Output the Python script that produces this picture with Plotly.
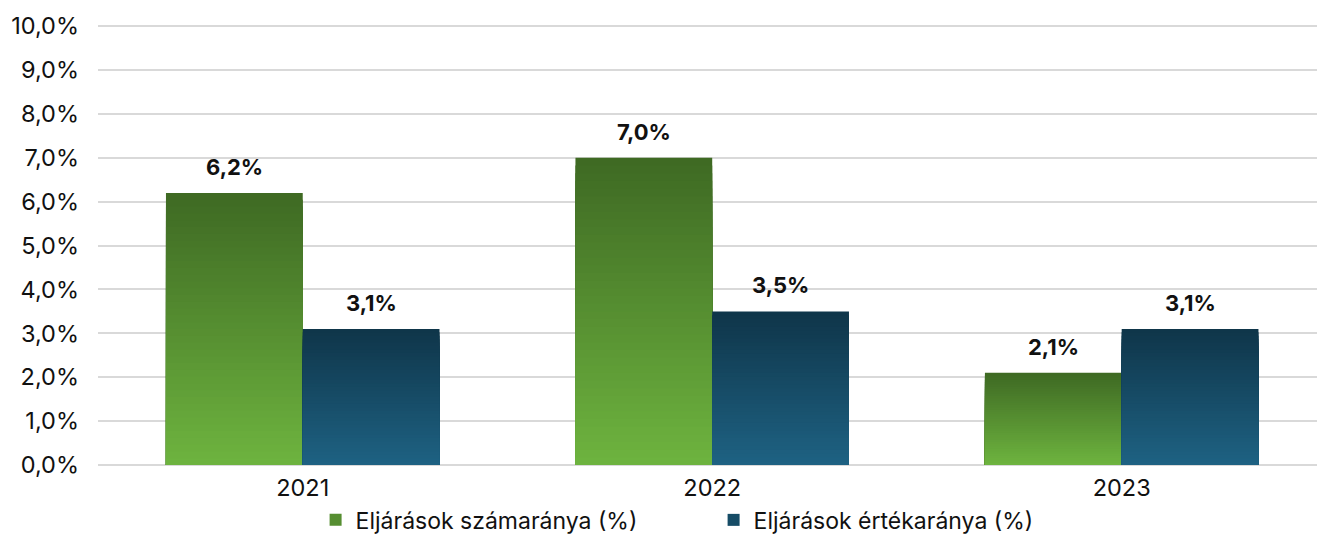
import plotly.graph_objects as go

years = ["2021", "2022", "2023"]
szamarany = [6.2, 7.0, 2.1]
ertekarany = [3.1, 3.5, 3.1]
series_names = ["Eljárások számaránya (%)", "Eljárások értékaránya (%)"]
y_ticks = [0, 1, 2, 3, 4, 5, 6, 7, 8, 9, 10]
y_ticktext = [("%.1f%%" % v).replace(".", ",") for v in y_ticks]

FONT = "Inter, Roboto, 'Liberation Sans', sans-serif"
BAR_W = 0.334
N = 40

grad = {
    0: ((0x3e, 0x69, 0x23), (0x6e, 0xb4, 0x3f)),
    1: ((0x0f, 0x35, 0x49), (0x1e, 0x62, 0x83)),
}
offsets = {0: -BAR_W, 1: 0.0}


def mix(c1, c2, t):
    return "rgb(%d,%d,%d)" % tuple(round(a + (b - a) * t) for a, b in zip(c1, c2))


fig = go.Figure()
for s, vals in enumerate([szamarany, ertekarany]):
    top, bot = grad[s]
    fig.add_trace(go.Bar(
        x=years, y=[0] * len(vals), name=series_names[s], legendgroup=str(s),
        marker=dict(color=mix(top, bot, 0.5), line=dict(width=0)),
        width=BAR_W, offset=offsets[s], showlegend=True, hoverinfo="skip"))
    for k in range(N):
        frac = (N - k) / N
        t = (k + 0.5) / N
        fig.add_trace(go.Bar(
            x=years, y=[v * frac for v in vals], legendgroup=str(s),
            marker=dict(color=mix(top, bot, t), line=dict(width=0)),
            width=BAR_W, offset=offsets[s], showlegend=False,
            name=series_names[s],
            customdata=vals, hovertemplate="%{x}: %{customdata:.1f}%<extra></extra>"))

annotations = []
for s, vals in enumerate([szamarany, ertekarany]):
    for i, v in enumerate(vals):
        annotations.append(dict(
            x=i + offsets[s] + BAR_W / 2, y=v, xref="x", yref="y",
            text=("%.1f%%" % v).replace(".", ","), showarrow=False,
            yanchor="bottom", yshift=11,
            font=dict(family=FONT, size=22, color="#111111", weight="bold")))

fig.update_layout(
    barmode="overlay",
    width=1317, height=536,
    margin=dict(l=98, r=0, t=24, b=71, autoexpand=False),
    paper_bgcolor="white", plot_bgcolor="white",
    font=dict(family=FONT, size=23, color="#111111"),
    annotations=annotations,
    showlegend=True,
    legend=dict(orientation="h", x=0.505, xref="paper", xanchor="center",
                y=0.03, yref="container", yanchor="middle",
                font=dict(family=FONT, size=23, color="#111111"),
                traceorder="normal", itemwidth=30,
                entrywidth=353, entrywidthmode="pixels"),
    xaxis=dict(type="category", range=[-0.5, 2.477], showgrid=False,
               showline=False, ticks="", tickfont=dict(size=23.5),
               ticklabelstandoff=6),
    yaxis=dict(range=[0, 10.05], tickvals=y_ticks, ticktext=y_ticktext,
               gridcolor="#d9d9d9", gridwidth=1.5, zeroline=True,
               zerolinecolor="#d9d9d9", zerolinewidth=2,
               showline=False, ticks="", tickfont=dict(size=23.5),
               ticklabelstandoff=18),
)

fig.write_html("out.html", config={"displayModeBar": False},
               post_script="document.body.style.margin='0';document.body.style.overflow='hidden';")
